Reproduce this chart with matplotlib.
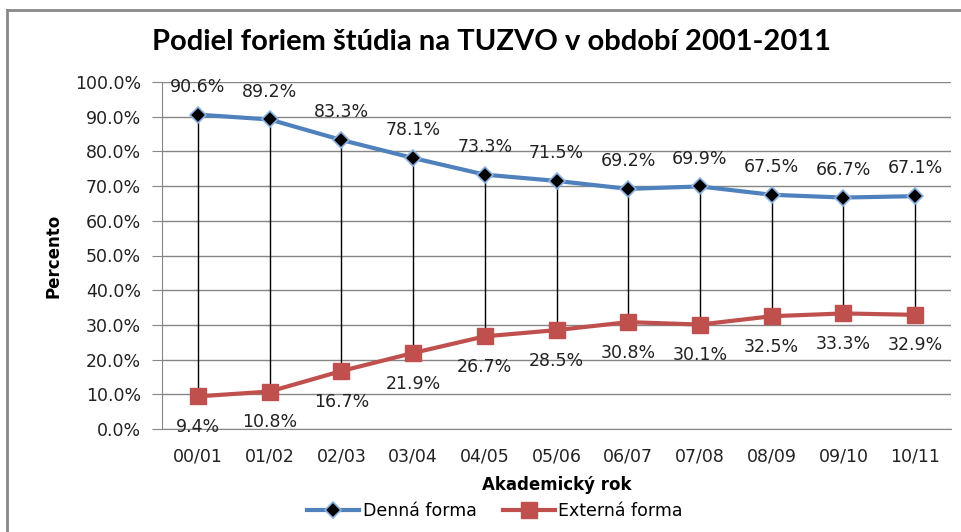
import matplotlib.pyplot as plt
import numpy as np
from matplotlib.lines import Line2D
from matplotlib.ticker import FuncFormatter

years = ["00/01", "01/02", "02/03", "03/04", "04/05", "05/06",
         "06/07", "07/08", "08/09", "09/10", "10/11"]
denna = [90.6, 89.2, 83.3, 78.1, 73.3, 71.5, 69.2, 69.9, 67.5, 66.7, 67.1]
externa = [9.4, 10.8, 16.7, 21.9, 26.7, 28.5, 30.8, 30.1, 32.5, 33.3, 32.9]

W, H = 961, 532
fig = plt.figure(figsize=(W / 100, H / 100), dpi=100)
ax = fig.add_axes([162 / W, 1 - 429 / H, (951 - 162) / W, (429 - 82) / H])

x = np.arange(len(years))

# hi-lo lines
ax.vlines(x, externa, denna, color="black", lw=1, zorder=2)

ax.plot(x, denna, color="#4F81BD", lw=3, marker="D", ms=8,
        mfc="black", mec="#8DB3E2", mew=1.2, label="Denná forma", zorder=3)
ax.plot(x, externa, color="#C0504D", lw=3, marker="s", ms=12,
        mfc="#C0504D", mec="#C0504D", label="Externá forma", zorder=3)

for xi, v in zip(x, denna):
    ax.annotate(f"{v:.1f}%", (xi, v), xytext=(0, 20), textcoords="offset points",
                ha="center", va="center", fontsize=12.5, color="#222222")
for xi, v in zip(x, externa):
    ax.annotate(f"{v:.1f}%", (xi, v), xytext=(0, -22), textcoords="offset points",
                ha="center", va="center", fontsize=12.5, color="#222222")

ax.set_xlim(-0.5, len(years) - 0.5)
ax.set_ylim(0, 100)
ax.set_yticks(np.arange(0, 101, 10))
ax.yaxis.set_major_formatter(FuncFormatter(lambda v, p: f"{v:.1f}%"))
ax.set_xticks(x)
ax.set_xticklabels(years)
ax.tick_params(axis="y", length=7, color="#868686", labelsize=12.5, pad=8, labelcolor="#222222")
ax.tick_params(axis="x", length=0, labelsize=12.5, pad=13, labelcolor="#222222")
ax.grid(axis="y", color="#868686", lw=1)
ax.set_axisbelow(True)
for s in ["top", "right"]:
    ax.spines[s].set_visible(False)
ax.spines["left"].set_color("#868686")
ax.spines["bottom"].set_color("#868686")

ax.set_xlabel("Akademický rok", fontsize=12, fontweight="bold", labelpad=8)
ax.set_ylabel("Percento", fontsize=12, fontweight="bold", labelpad=9)

fig.text(0.511, 1 - 42 / H, "Podiel foriem štúdia na TUZVO v období 2001-2011",
         ha="center", va="center", fontsize=21, fontweight="bold", family="Lato")

fig.legend(loc="center", bbox_to_anchor=(495 / W, 1 - 511 / H), ncol=2,
           frameon=False, fontsize=12.5, handlelength=3.0, columnspacing=1.5,
           handletextpad=0.2)

# outer chart border (top and left)
fig.add_artist(Line2D([7 / W, 1], [1 - 10 / H, 1 - 10 / H], color="#888888", lw=2,
                      transform=fig.transFigure))
fig.add_artist(Line2D([7 / W, 7 / W], [0, 1 - 10 / H], color="#888888", lw=2,
                      transform=fig.transFigure))

fig.savefig("out.png", dpi=100)
